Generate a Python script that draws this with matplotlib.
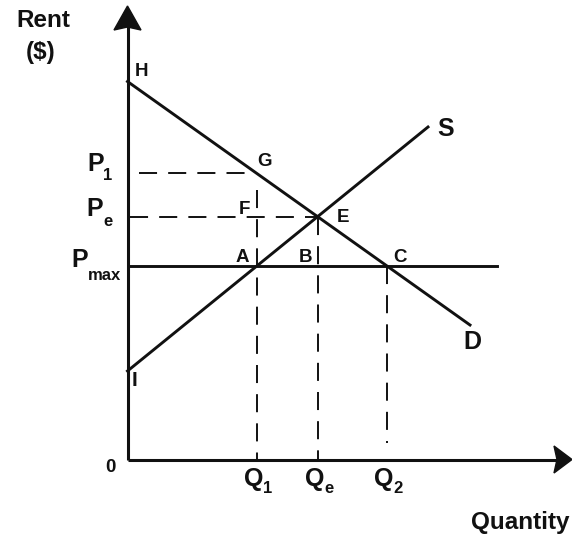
import matplotlib
matplotlib.use("Agg")
import matplotlib.pyplot as plt
from matplotlib.patches import Polygon

plt.rcParams['font.family'] = ['Liberation Sans', 'DejaVu Sans']
plt.rcParams['lines.scale_dashes'] = False

# curves (quantity, rent)
demand_q = [0, 342.5]
demand_p = [378, 134.5]
supply_q = [0, 300.5]
supply_p = [88.5, 332.5]

# price ceiling
p_max = 193.5
p_max_end = 369.5

# key levels
q_1, q_e, q_2 = 129, 190.5, 259.5
p_1, p_e = 287, 243

# axis ends
q_axis_end = 444.5
p_axis_end = 453.5

ink = '#111111'
fig = plt.figure(figsize=(5.72, 5.36), dpi=100)
ax = fig.add_axes([0, 0, 1, 1])
ax.set_xlim(-127.5, 444.5)
ax.set_ylim(-76.5, 459.5)
ax.axis('off')

# axes with arrows
ax.plot([0, 0], [0, p_axis_end - 20], color=ink, lw=2.2, solid_capstyle='butt')
ax.plot([0, q_axis_end - 12], [0, 0], color=ink, lw=2.2, solid_capstyle='butt')
ax.add_patch(Polygon([[0, p_axis_end], [-13.5, p_axis_end - 24], [0, p_axis_end - 21],
                      [13.5, p_axis_end - 24]], closed=True, color=ink))
ax.add_patch(Polygon([[q_axis_end, 0], [q_axis_end - 18, 13.5], [q_axis_end - 15, 0],
                      [q_axis_end - 18, -13.5]], closed=True, color=ink))

# demand, supply, ceiling
ax.plot(demand_q, demand_p, color=ink, lw=2.1)
ax.plot(supply_q, supply_p, color=ink, lw=2.1)
ax.plot([0, p_max_end], [p_max, p_max], color=ink, lw=2.1)

# dashed guides
dash = dict(color=ink, lw=1.4, dashes=(13, 8))
ax.plot([11, q_1], [p_1, p_1], **dash)
ax.plot([2, q_e], [p_e, p_e], **dash)
ax.plot([q_1, q_1], [270, 0], **dash)
ax.plot([q_e, q_e], [p_e, 0], **dash)
ax.plot([q_2, q_2], [p_max, 16.5], **dash)

# point labels
small = dict(fontsize=13.5, fontweight='bold', color=ink, ha='center', va='center')
big = dict(fontsize=18, fontweight='bold', color=ink, ha='center', va='center')
sub = dict(fontsize=12, fontweight='bold', color=ink, ha='left', va='center')

for txt, x, y in [('H', 13.5, 387.5), ('G', 136.5, 297.5), ('F', 116.5, 249.5),
                  ('E', 215.5, 241.5), ('A', 114.5, 201.5), ('B', 178.5, 201.5),
                  ('C', 272.5, 201.5), ('0', -17.5, -8.5)]:
    ax.text(x, y, txt, **small)
ax.text(7, 79.5, 'I', fontsize=15, fontweight='bold', color=ink, ha='center', va='center')
ax.text(318.5, 330.5, 'S', **big)
ax.text(344.5, 117.5, 'D', **big)

# price labels
ax.text(-32, 295.5, 'P', **big)
ax.text(-24.5, 283.5, '1', **sub)
ax.text(-33, 250.5, 'P', **big)
ax.text(-24, 237.5, 'e', **sub)
ax.text(-48, 199.5, 'P', **big)
ax.text(-40, 184.5, 'max', **sub)

# quantity labels
for x, s in [(q_1, '1'), (q_e, 'e'), (q_2, '2')]:
    ax.text(x - 3, -19.5, 'Q', **big)
    ax.text(x + 6, -29, s, **sub)

ax.text(-84, 439, 'Rent', fontsize=17.5, fontweight='bold', color=ink, ha='center', va='center')
ax.text(-86.5, 407.5, '($)', fontsize=17.5, fontweight='bold', color=ink, ha='center', va='center')
ax.text(442.5, -63.5, 'Quantity', fontsize=17.5, fontweight='bold', color=ink, ha='right', va='center')

fig.savefig('out.png', dpi=100)
